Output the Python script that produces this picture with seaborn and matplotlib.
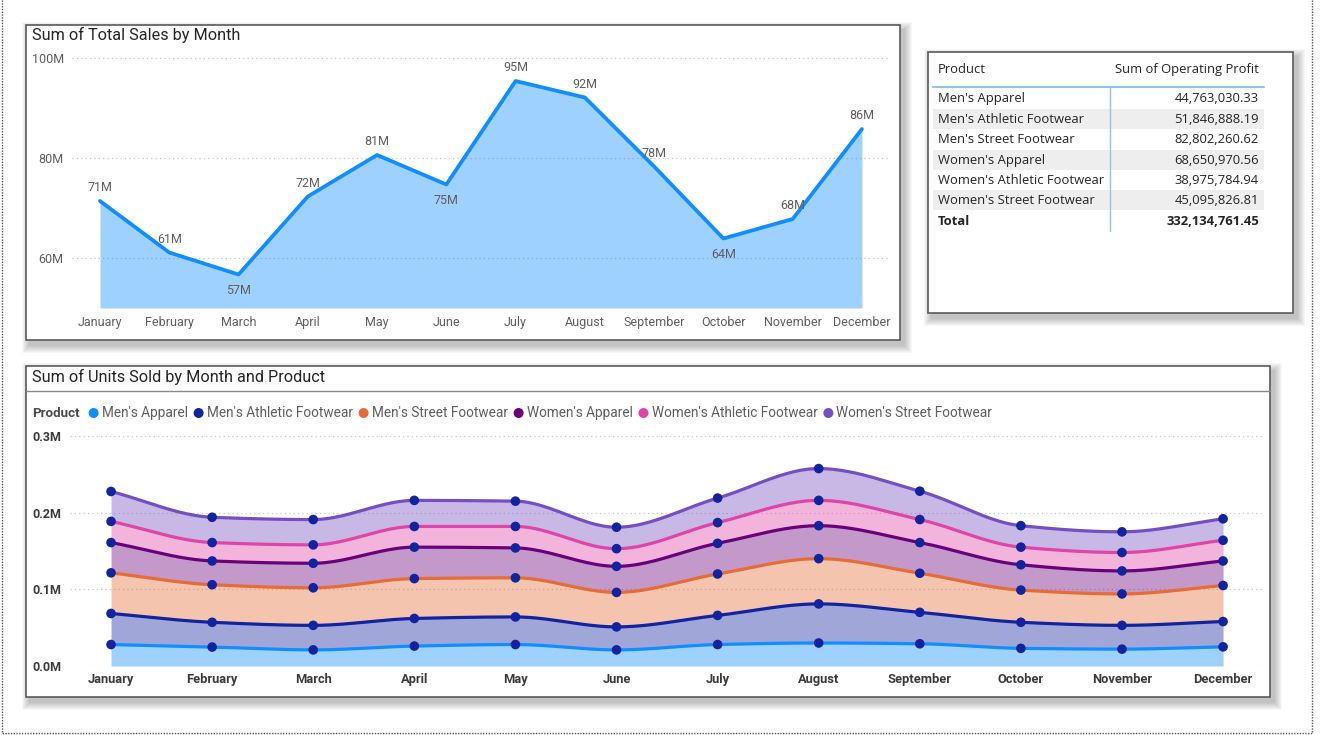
import numpy as np
import pandas as pd
import matplotlib
matplotlib.use("Agg")
import matplotlib.pyplot as plt
import seaborn as sns
from matplotlib.patches import Rectangle, Circle

# ---- data ----
months = ["January", "February", "March", "April", "May", "June",
          "July", "August", "September", "October", "November", "December"]

# Sum of Total Sales (millions)
total_sales = [71.4, 61.1, 56.7, 72.3, 80.6, 74.7, 95.4, 92.1, 78.3, 63.9, 67.8, 85.8]

products = ["Men's Apparel", "Men's Athletic Footwear", "Men's Street Footwear",
            "Women's Apparel", "Women's Athletic Footwear", "Women's Street Footwear"]
product_colors = ["#118DFF", "#12239E", "#E66C37", "#6B007B", "#E044A7", "#744EC2"]

# Units sold per product and month (thousands)
units_mens_apparel = [28.0, 24.7, 21.0, 26.0, 28.0, 21.0, 28.0, 30.0, 29.0, 23.0, 22.0, 25.0]
units_mens_athletic = [40.5, 32.3, 32.0, 36.0, 36.0, 30.0, 38.0, 51.0, 41.0, 34.0, 31.0, 33.0]
units_mens_street = [53.0, 49.0, 49.0, 52.0, 51.0, 45.0, 54.0, 59.0, 51.0, 42.0, 41.0, 47.0]
units_womens_apparel = [39.5, 31.0, 32.0, 41.0, 39.0, 34.0, 40.0, 43.0, 40.0, 33.0, 30.0, 32.0]
units_womens_athletic = [27.6, 24.0, 24.0, 27.0, 28.0, 23.0, 27.0, 33.0, 30.0, 23.0, 24.0, 27.0]
units_womens_street = [39.0, 33.0, 33.0, 34.0, 33.0, 28.0, 32.0, 41.5, 37.0, 28.0, 27.0, 28.0]
units = [units_mens_apparel, units_mens_athletic, units_mens_street,
         units_womens_apparel, units_womens_athletic, units_womens_street]

operating_profit = [44763030.33, 51846888.19, 82802260.62,
                    68650970.56, 38975784.94, 45095826.81]

# ---- style ----
sns.set_theme(style="white")
NARROW = ["Liberation Sans Narrow", "Roboto", "DejaVu Sans"]
UI = ["Open Sans", "Noto Sans", "DejaVu Sans"]
plt.rcParams["font.family"] = NARROW
TXT_DARK = "#252423"
TXT_GRAY = "#605E5C"
GRID = "#C8C6C4"

W, H = 1330, 735
fig = plt.figure(figsize=(W / 100, H / 100), dpi=100, facecolor="white")


def fig_rect(x0, y0, x1, y1):
    return [x0 / W, 1 - y1 / H, (x1 - x0) / W, (y1 - y0) / H]


def smooth(x, y, n=24):
    # monotone cubic hermite, used only to draw the smooth lines
    x = np.asarray(x, float)
    y = np.asarray(y, float)
    h = np.diff(x)
    d = np.diff(y) / h
    m = np.zeros_like(y)
    a, b = d[:-1], d[1:]
    ok = a * b > 0
    m[1:-1][ok] = 2 * a[ok] * b[ok] / (a[ok] + b[ok])
    m[0], m[-1] = d[0], d[-1]
    xs, ys = [], []
    for i in range(len(h)):
        t = np.linspace(0, 1, n, endpoint=(i == len(h) - 1))
        h00 = 2 * t**3 - 3 * t**2 + 1
        h10 = t**3 - 2 * t**2 + t
        h01 = -2 * t**3 + 3 * t**2
        h11 = t**3 - t**2
        xs.append(x[i] + t * h[i])
        ys.append(h00 * y[i] + h10 * h[i] * m[i] + h01 * y[i + 1] + h11 * h[i] * m[i + 1])
    return np.concatenate(xs), np.concatenate(ys)


bg = fig.add_axes([0, 0, 1, 1], zorder=0)
bg.set_xlim(0, W)
bg.set_ylim(H, 0)
bg.axis("off")


def panel(x0, y0, x1, y1):
    for s in range(8, 0, -1):
        bg.add_patch(Rectangle((x0 + 4 - s, y0 + 5 - s), x1 - x0 + 2 * s, y1 - y0 + 2 * s,
                               facecolor="#000000", alpha=0.03, lw=0))
    bg.add_patch(Rectangle((x0, y0), x1 - x0, y1 - y0, facecolor="white",
                           edgecolor="#5A5A5A", lw=1.2))


# outer dotted frame
for xs_, ys_ in [([2, 2], [0, 733]), ([1312, 1312], [0, 733]), ([2, 1312], [733, 733])]:
    bg.plot(xs_, ys_, color="#555555", lw=1, linestyle=(0, (1, 1)))

panel(26, 25, 900, 340)
panel(928, 52, 1293, 313)
panel(26, 366, 1270, 697)

# ---- top: total sales area ----
bg.text(32, 35, "Sum of Total Sales by Month", fontsize=11.7, color=TXT_DARK,
        va="center", ha="left")

ax1 = fig.add_axes(fig_rect(72, 52, 888, 308), zorder=2)
ax1.patch.set_alpha(0)
x_idx = np.arange(len(months))
ax1.fill_between(x_idx, total_sales, 50, color="#118DFF", alpha=0.4, lw=0)
sns.lineplot(x=x_idx, y=total_sales, ax=ax1, color="#118DFF", lw=2.7)
ax1.set_xlim(-0.404, 11.376)
ax1.set_ylim(50, 101.2)
ax1.set_yticks([60, 80, 100])
ax1.set_yticklabels([f"{v}M" for v in [60, 80, 100]])
ax1.set_xticks(x_idx)
ax1.set_xticklabels(months)
ax1.tick_params(length=0, labelsize=9, labelcolor=TXT_GRAY)
ax1.tick_params(axis="x", pad=6)
ax1.tick_params(axis="y", pad=6)
ax1.yaxis.grid(True, color=GRID, lw=0.9, linestyle=(0, (1, 2.5)))
ax1.set_axisbelow(True)
for sp in ax1.spines.values():
    sp.set_visible(False)
ax1.set_xlabel("")
ax1.set_ylabel("")
for i, v in enumerate(total_sales):
    prev_v = total_sales[i - 1] if i > 0 else -1
    next_v = total_sales[i + 1] if i < len(total_sales) - 1 else -1
    below = i > 0 and i < len(total_sales) - 1 and v < prev_v and v < next_v
    ax1.annotate(f"{round(v)}M", (i, v), xytext=(0, -7 if below else 5),
                 textcoords="offset points", ha="center",
                 va="top" if below else "bottom", fontsize=9, color=TXT_GRAY)

# ---- table ----
TS = 9.4
bg.text(938, 69, "Product", fontsize=TS, color=TXT_DARK, va="center", family=UI)
bg.text(1259, 69, "Sum of Operating Profit", fontsize=TS, color=TXT_DARK,
        va="center", ha="right", family=UI)
row_y = [98, 119, 139, 160, 180, 200]
for k, (p, v) in enumerate(zip(products, operating_profit)):
    if k % 2 == 1:
        bg.add_patch(Rectangle((933, row_y[k] - 10), 331, 20, facecolor="#EEEEEE", lw=0))
    bg.text(938, row_y[k], p, fontsize=TS, color=TXT_DARK, va="center", family=UI)
    bg.text(1259, row_y[k], f"{v:,.2f}", fontsize=TS, color=TXT_DARK,
            va="center", ha="right", family=UI)
bg.text(938, 221, "Total", fontsize=TS, color=TXT_DARK, va="center",
        fontweight="bold", family=UI)
bg.text(1259, 221, f"{round(sum(operating_profit), 2):,.2f}", fontsize=TS,
        color=TXT_DARK, va="center", ha="right", fontweight="bold", family=UI)
bg.plot([933, 1264], [87, 87], color="#8FC3EA", lw=1.5)
bg.plot([1110, 1110], [88, 231], color="#8FC3EA", lw=1.0)

# ---- bottom: stacked units area ----
bg.text(32, 377, "Sum of Units Sold by Month and Product", fontsize=11.7,
        color=TXT_DARK, va="center", ha="left")
bg.plot([26, 1270], [391, 391], color="#8A8A8A", lw=1.0)

ax2 = fig.add_axes(fig_rect(70, 430, 1262, 666), zorder=2)
ax2.patch.set_alpha(0)
base = np.zeros(len(months))
rows = []
for p, vals, c in zip(products, units, product_colors):
    top = base + np.asarray(vals)
    xs, ts = smooth(x_idx, top)
    _, bs = smooth(x_idx, base) if base.any() else (xs, np.zeros_like(xs))
    ax2.fill_between(xs, bs, ts, color=c, alpha=0.4, lw=0)
    sns.lineplot(x=xs, y=ts, ax=ax2, color=c, lw=2.3, sort=False)
    for i, t in enumerate(top):
        rows.append({"idx": i, "cum": t, "product": p})
    base = top
stack_df = pd.DataFrame(rows)
sns.scatterplot(data=stack_df, x="idx", y="cum", ax=ax2, color="#12239E",
                s=48, edgecolor="none", zorder=5, legend=False)
ax2.set_xlim(-0.406, 11.385)
ax2.set_ylim(0, 307.8)
ax2.set_yticks([0, 100, 200, 300])
ax2.set_yticklabels([f"{v / 1000:.1f}M" for v in [0, 100, 200, 300]])
ax2.set_xticks(x_idx)
ax2.set_xticklabels(months)
ax2.tick_params(length=0, labelsize=9, labelcolor="#3B3A39")
ax2.tick_params(axis="x", labelsize=9.3, pad=5)
ax2.tick_params(axis="y", pad=6)
for lab in ax2.get_xticklabels() + ax2.get_yticklabels():
    lab.set_fontweight("bold")
ax2.yaxis.grid(True, color=GRID, lw=0.9, linestyle=(0, (1, 2.5)))
ax2.set_axisbelow(True)
for sp in ax2.spines.values():
    sp.set_visible(False)
ax2.set_xlabel("")
ax2.set_ylabel("")

# legend row
renderer = fig.canvas.get_renderer()
leg_y = 413
t = bg.text(32, leg_y, "Product", fontsize=9.6, color="#4A4947", va="center",
            fontweight="bold")
x_cur = t.get_window_extent(renderer).x1 + 9
for p, c in zip(products, product_colors):
    bg.add_patch(Circle((x_cur + 5, leg_y), 5, facecolor=c, lw=0))
    t = bg.text(x_cur + 13, leg_y, p, fontsize=9.8, color=TXT_GRAY, va="center")
    x_cur = t.get_window_extent(renderer).x1 + 6

fig.savefig("out.png", dpi=100, facecolor="white")
